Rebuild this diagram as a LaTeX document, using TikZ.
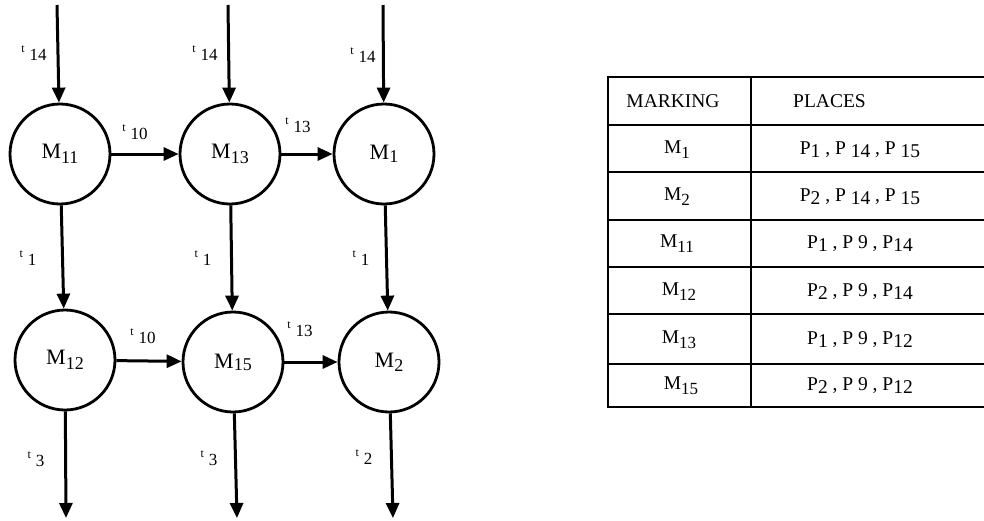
\documentclass[tikz,border=0pt]{standalone}
\usepackage{fontspec}
\setmainfont{Liberation Serif}
\usetikzlibrary{arrows.meta}
\newcommand{\Msub}[2][-5pt]{M\raisebox{#1}{\fontsize{18}{18}\selectfont #2}}
\newcommand{\tlab}[1]{\raisebox{8pt}{\fontsize{12}{12}\selectfont t}\hspace{5pt}#1}
\newcommand{\Tsub}[1]{M\raisebox{-5pt}{\fontsize{17}{17}\selectfont #1}}
\newcommand{\pl}[1]{P\raisebox{-3pt}{#1}}
\begin{document}
\begin{tikzpicture}[x=1pt,y=-1pt,
  state/.style={circle,draw,line width=2.8pt,minimum size=100pt,inner sep=0pt,font=\fontsize{22}{22}\selectfont},
  arr/.style={line width=3pt,-{Triangle[length=15pt,width=13pt]}},
  lab/.style={inner sep=0pt,font=\fontsize{17}{17}\selectfont},
  cell/.style={inner sep=0pt,font=\fontsize{19.5}{19.5}\selectfont},
  tline/.style={line width=1.8pt},
  tborder/.style={line width=2.8pt}]
\useasboundingbox (0,0) rectangle (984,520);
% states
\node[state] (M11) at (60,154) {\Msub{11}};
\node[state] (M13) at (230,154) {\Msub{13}};
\node[state] (M1) at (384,154) {\Msub[-3pt]{1}};
\node[state] (M12) at (65,360) {\Msub{12}};
\node[state] (M15) at (233,362) {\Msub[-2pt]{15}};
\node[state] (M2) at (389,362) {\Msub[-4pt]{2}};
% free ends
\coordinate (a1) at (57,5);
\coordinate (a2) at (228,5);
\coordinate (a3) at (383,5);
\coordinate (b1) at (66,518);
\coordinate (b2) at (237,518);
\coordinate (b3) at (393,518);
% connectors
\draw[arr] (a1) -- (M11);
\draw[arr] (a2) -- (M13);
\draw[arr] (a3) -- (M1);
\draw[arr] (M11) -- (M13);
\draw[arr] (M13) -- (M1);
\draw[arr] (M11) -- (M12);
\draw[arr] (M13) -- (M15);
\draw[arr] (M1) -- (M2);
\draw[arr] (M12) -- (M15);
\draw[arr] (M15) -- (M2);
\draw[arr] (M12) -- (b1);
\draw[arr] (M15) -- (b2);
\draw[arr] (M2) -- (b3);
% labels
\node[lab] (l14a) at (34,53) {\tlab{14}};
\node[lab] (l14b) at (205,53) {\tlab{14}};
\node[lab] (l14c) at (363,55) {\tlab{14}};
\node[lab] (l10a) at (135,132) {\tlab{10}};
\node[lab] (l13a) at (298,125) {\tlab{13}};
\node[lab] (l1a) at (28,258) {\tlab{1}};
\node[lab] (l1b) at (203,258) {\tlab{1}};
\node[lab] (l1c) at (361,258) {\tlab{1}};
\node[lab] (l10b) at (143,336) {\tlab{10}};
\node[lab] (l13b) at (300,329) {\tlab{13}};
\node[lab] (l3a) at (36,459) {\tlab{3}};
\node[lab] (l3b) at (209,458) {\tlab{3}};
\node[lab] (l2c) at (364,457) {\tlab{2}};
% table
\draw[tborder] (984,77) -- (608,77) -- (608,407) -- (984,407);
\draw[tborder] (751,77) -- (751,407);
\foreach \yy in {125,172,220,267,314,364} \draw[tline] (608,\yy) -- (984,\yy);
\node[cell] (h1) at (673,101) {MARKING};
\node[cell,anchor=west] (h2) at (793,101) {PLACES};
\node[cell] (r1a) at (677,150) {\Tsub{1}};
\node[cell] (r1b) at (860,150) {\pl{1} , \pl{ 14} , \pl{ 15}};
\node[cell] (r2a) at (677,197) {\Tsub{2}};
\node[cell] (r2b) at (860,197) {\pl{2} , \pl{ 14} , \pl{ 15}};
\node[cell] (r3a) at (677,244) {\Tsub{11}};
\node[cell] (r3b) at (860,244) {\pl{1} , P 9 , \pl{14}};
\node[cell] (r4a) at (679,292) {\Tsub{12}};
\node[cell] (r4b) at (860,292) {\pl{2} , P 9 , \pl{14}};
\node[cell] (r5a) at (679,340) {\Tsub{13}};
\node[cell] (r5b) at (860,340) {\pl{1} , P 9 , \pl{12}};
\node[cell] (r6a) at (681,386) {\Tsub{15}};
\node[cell] (r6b) at (860,386) {\pl{2} , P 9 , \pl{12}};
\end{tikzpicture}
\end{document}
